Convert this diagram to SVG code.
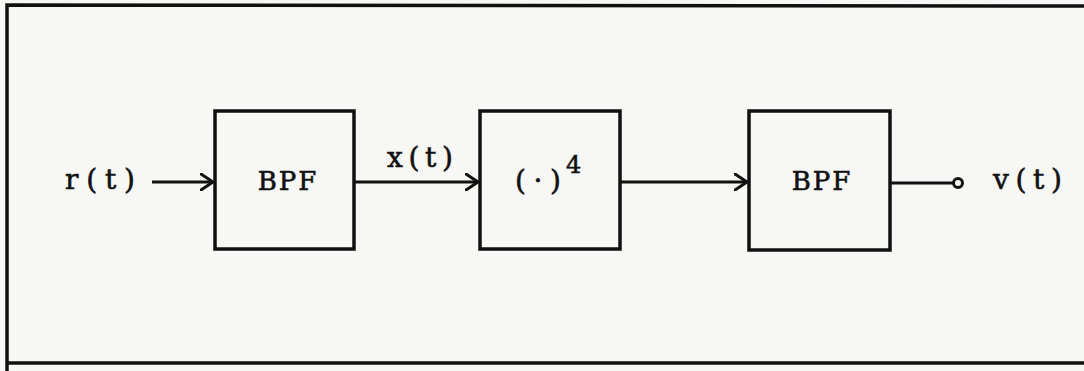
<svg xmlns="http://www.w3.org/2000/svg" width="1084" height="371" viewBox="0 0 1084 371">
<defs>
<style>
.frame{fill:none;stroke:#111;stroke-width:3.5}
.box{fill:none;stroke:#111;stroke-width:3.5}
.wire{fill:none;stroke:#111;stroke-width:3}
.lbl{font-family:"DejaVu Serif","Liberation Serif",serif;font-size:28px;fill:#111;stroke:#111;stroke-width:0.6}
.blk{font-size:26px;letter-spacing:2px}
</style>
<marker id="arr" viewBox="0 0 14 18" refX="13" refY="9" markerWidth="14" markerHeight="18" markerUnits="userSpaceOnUse" orient="auto">
<path d="M1,1 L13,9 L1,17" fill="none" stroke="#111" stroke-width="3" stroke-linecap="round" stroke-linejoin="round"/>
</marker>
</defs>
<rect width="1084" height="371" fill="#f7f7f5"/>
<g id="frame">
<path class="frame" d="M7,371 V5 L1084,6"/>
<path class="frame" d="M7,363 H1084"/>
</g>
<g id="input">
<text class="lbl" x="65" y="189" textLength="70" lengthAdjust="spacing">r(t)</text>
</g>
<g id="bpf1">
<rect class="box" x="215" y="111" width="139" height="138"/>
<text class="lbl blk" x="288" y="190" text-anchor="middle">BPF</text>
</g>
<g id="power4">
<rect class="box" x="480" y="111" width="140" height="138"/>
<text class="lbl" x="515" y="190" textLength="46" lengthAdjust="spacing">(·)</text>
<text class="lbl" x="566" y="173" style="font-size:24px">4</text>
</g>
<g id="bpf2">
<rect class="box" x="749" y="111" width="141" height="139"/>
<text class="lbl blk" x="822" y="190" text-anchor="middle">BPF</text>
</g>
<g id="output">
<circle cx="958" cy="183" r="4.5" fill="none" stroke="#111" stroke-width="3"/>
<text class="lbl" x="993" y="189" textLength="69" lengthAdjust="spacing">v(t)</text>
</g>
<g id="connectors">
<line class="wire" x1="152" y1="182" x2="213" y2="182" marker-end="url(#arr)"/>
<line class="wire" x1="354" y1="182" x2="478" y2="182" marker-end="url(#arr)"/>
<text class="lbl" x="387" y="167" textLength="66" lengthAdjust="spacing">x(t)</text>
<line class="wire" x1="620" y1="182" x2="747" y2="182" marker-end="url(#arr)"/>
<line class="wire" x1="890" y1="183" x2="953" y2="183"/>
</g>
</svg>
